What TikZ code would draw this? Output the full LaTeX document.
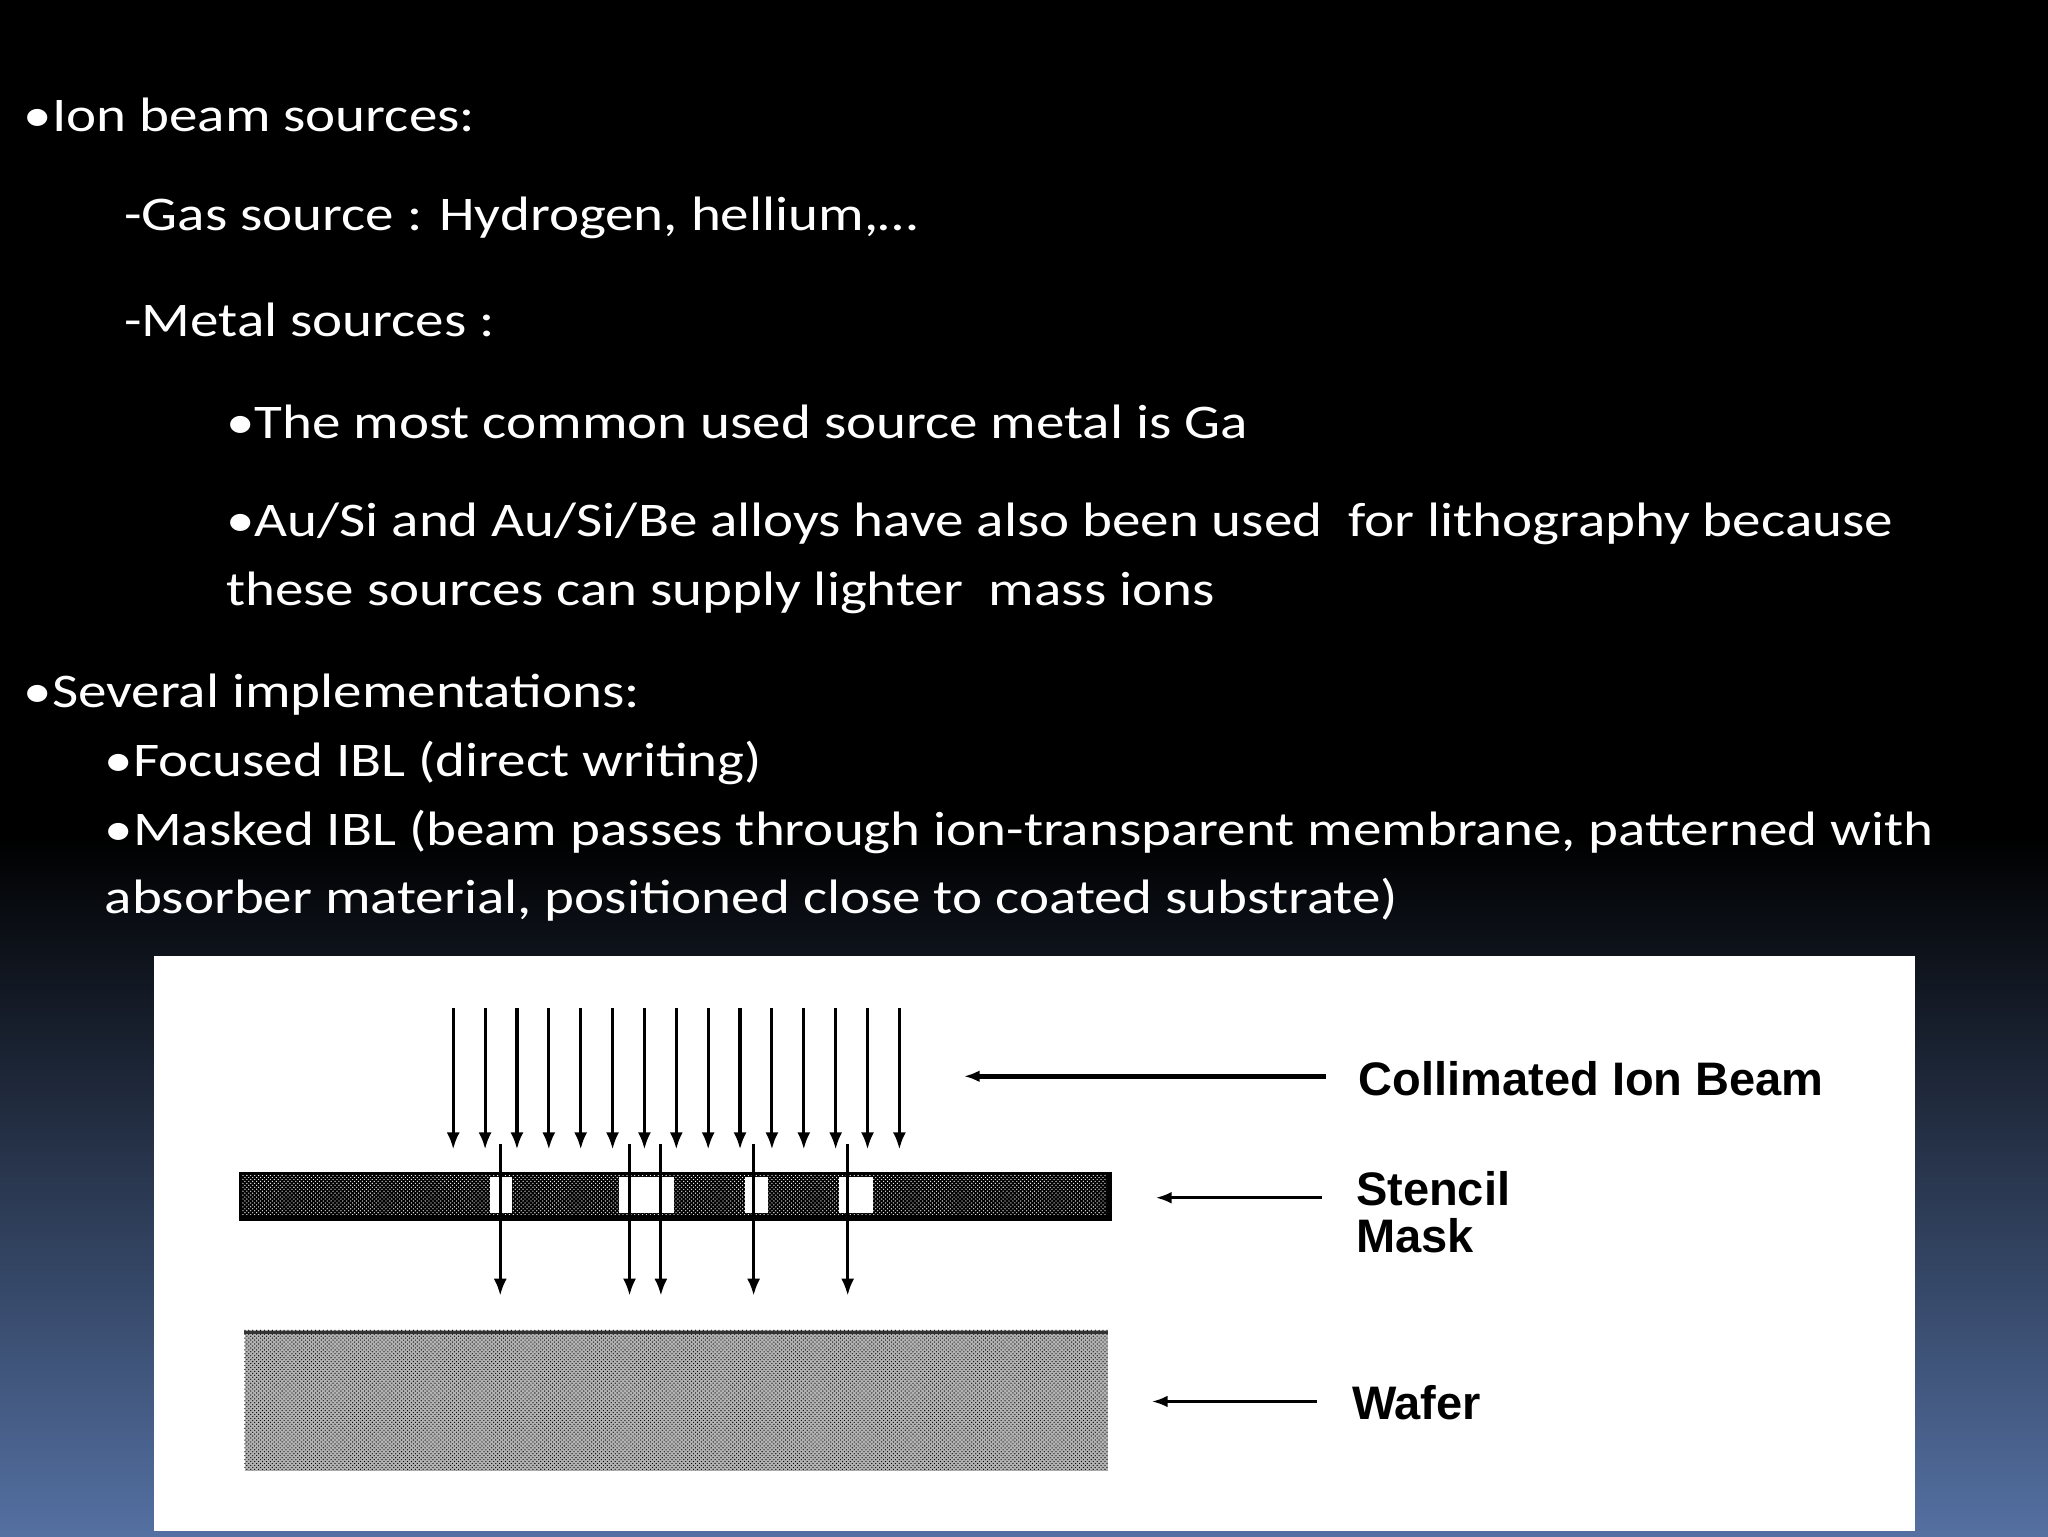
\documentclass[tikz,border=0pt]{standalone}
\usepackage{fontspec}
\setmainfont{Carlito}[FakeStretch=1.18]
\newfontfamily\lblfont{Liberation Sans}
\usetikzlibrary{patterns,arrows.meta}
\begin{document}
\begin{tikzpicture}[x=1pt,y=-1pt,
  txt/.style={anchor=west,text=white,font=\fontsize{37}{40}\selectfont,inner sep=0},
  lbl/.style={anchor=west,font=\fontsize{36}{38}\lblfont\bfseries,inner sep=0,align=left},
  beam/.style={line width=2.4pt,-{Latex[length=13pt,width=10pt]}},
  ptr/.style={line width=2.5pt,-{Latex[length=12pt,width=9pt]}}]
\useasboundingbox (0,0) rectangle (1568,1176);
\fill[black] (0,0) rectangle (1568,1176);
\shade[top color=black,bottom color={rgb,255:red,84;green,112;blue,162}] (0,640) rectangle (1568,1176);
% text
\node[txt] (t1) at (18,88) {•Ion beam sources:};
\node[txt] (t2) at (95,167) {-Gas source : Hydrogen, hellium,…};
\node[txt] (t3) at (95,245) {-Metal sources :};
\node[txt] (t4) at (173,323) {•The most common used source metal is Ga};
\node[txt] (t5) at (173,401) {•Au/Si and Au/Si/Be alloys have also been used\ \ for lithography because};
\node[txt] (t6) at (173,454) {these sources can supply lighter\ \ mass ions};
\node[txt] (t7) at (18,532) {•Several implementations:};
\node[txt] (t8) at (80,584) {•Focused IBL (direct writing)};
\node[txt] (t9) at (80,637) {•Masked IBL (beam passes through ion-transparent membrane, patterned with};
\node[txt] (t10) at (80,689) {absorber material, positioned close to coated substrate)};
% panel
\fill[white] (118,732) rectangle (1466,1172);
% mask
\node[draw=black,line width=2pt,fill=black,minimum width=666pt,minimum height=36pt,inner sep=0,anchor=north west] (mask) at (183,897) {};
\fill[pattern=crosshatch dots,pattern color=white] (185,900) rectangle (847,930);
\foreach \a/\b in {375/392,474/516,570/588,642/668} \fill[white] (\a,901) rectangle (\b,929);
% wafer
\node[fill=black!30,minimum width=661pt,minimum height=108pt,inner sep=0,anchor=north west] (wafer) at (187,1018) {};
\fill[pattern=crosshatch dots,pattern color=black] (187,1018) rectangle (848,1126);
\draw[line width=2.5pt,black!80] (187,1020) -- (848,1020);
% beam arrows
\foreach \i in {0,...,14} {
  \coordinate (b\i) at (347+24.4*\i,772);
  \coordinate (e\i) at (347+24.4*\i,880);
  \draw[beam] (b\i) -- (e\i);
}
\foreach \x [count=\j] in {383,482,506,577,649} {
  \coordinate (h\j) at (\x,876);
  \coordinate (k\j) at (\x,992);
  \draw[beam] (h\j) -- (k\j);
}
% labels
\node[lbl] (lc) at (1040,826) {Collimated Ion Beam};
\node[lbl] (ls) at (1038,910) {Stencil};
\node[lbl] (lm) at (1038,946) {Mask};
\node[lbl] (lw) at (1035,1074) {Wafer};
\coordinate (pc) at (738,824);
\coordinate (ps) at (885,917);
\coordinate (pw) at (882,1073);
\draw[ptr,line width=3.5pt] (1015,824) -- (pc);
\draw[ptr,line width=2pt] (1012,917) -- (ps);
\draw[ptr,line width=2pt] (1008,1073) -- (pw);
\end{tikzpicture}
\end{document}
